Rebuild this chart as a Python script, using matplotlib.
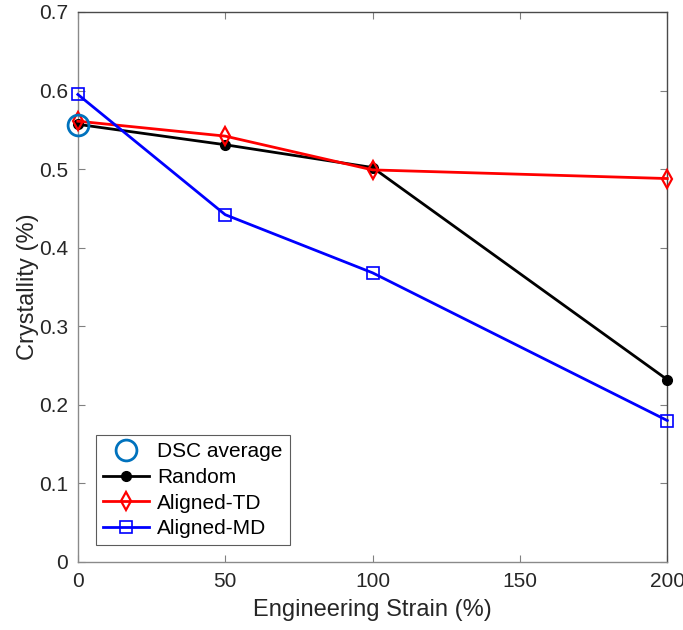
import matplotlib
matplotlib.use("Agg")
import matplotlib.pyplot as plt

plt.rcParams['font.family'] = ['Liberation Sans', 'DejaVu Sans']

strain = [0, 50, 100, 200]
random_cryst = [0.557, 0.531, 0.502, 0.232]
aligned_td = [0.561, 0.542, 0.499, 0.488]
aligned_md = [0.595, 0.442, 0.368, 0.180]
dsc_strain = [0]
dsc_avg = [0.556]

fig = plt.figure(figsize=(6.83, 6.30), dpi=100)
ax = fig.add_axes([0.114, 0.108, 0.863, 0.873])

ax.plot(dsc_strain, dsc_avg, 'o', ms=15, mfc='none', mec='#0072BD', mew=2,
        label='DSC average', clip_on=False, zorder=5)
ax.plot(strain, random_cryst, '-o', color='black', lw=2, ms=7,
        label='Random', clip_on=False, zorder=4)
ax.plot(strain, aligned_td, '-d', color='red', lw=2, ms=9, mfc='none', mew=1.6,
        label='Aligned-TD', clip_on=False, zorder=4)
ax.plot(strain, aligned_md, '-s', color='blue', lw=2, ms=8, mfc='none', mew=1.2,
        label='Aligned-MD', clip_on=False, zorder=4)

ax.set_xlim(0, 200)
ax.set_ylim(0, 0.7)
ax.set_xticks([0, 50, 100, 150, 200])
ax.set_yticks([0, 0.1, 0.2, 0.3, 0.4, 0.5, 0.6, 0.7])
ax.set_yticklabels(['0', '0.1', '0.2', '0.3', '0.4', '0.5', '0.6', '0.7'])

for side in ('left', 'bottom'):
    ax.spines[side].set_color('#8a8a8a')
for side in ('top', 'right'):
    ax.spines[side].set_color('#4a4a4a')
for s in ax.spines.values():
    s.set_linewidth(1)
ax.tick_params(direction='in', top=True, right=True, labelcolor='#262626',
               labelsize=15, length=5, width=0.8, color='#808080', pad=7)

ax.set_xlabel('Engineering Strain (%)', fontsize=17, color='#262626', labelpad=6)
ax.set_ylabel('Crystallity (%)', fontsize=17, color='#262626', labelpad=0)

leg = ax.legend(loc='lower left', bbox_to_anchor=(0.03, 0.03), fontsize=15,
                frameon=True, fancybox=False, edgecolor='#333333',
                handlelength=2.2, borderpad=0.35, labelspacing=0.32,
                handletextpad=0.4, borderaxespad=0)
leg.get_frame().set_linewidth(0.8)

fig.savefig('out.png', dpi=100)
